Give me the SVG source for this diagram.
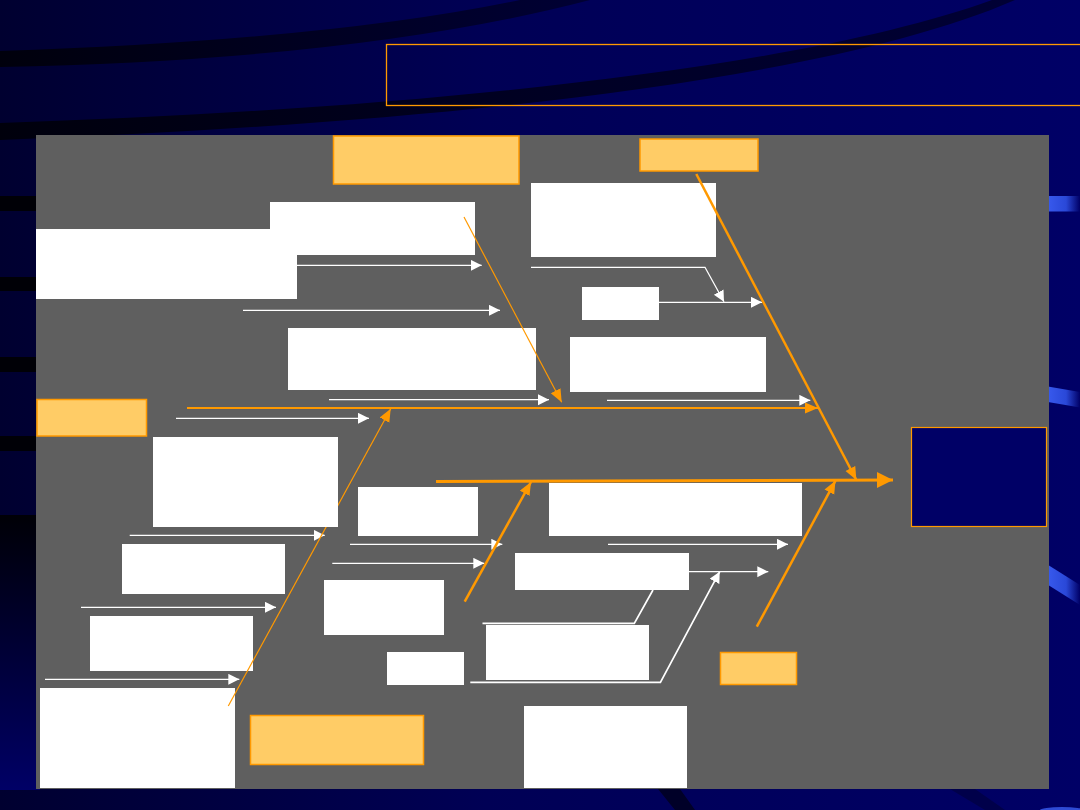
<svg xmlns="http://www.w3.org/2000/svg" width="1080" height="810" viewBox="0 0 1080 810">
<defs>
<linearGradient id="bg" x1="0" y1="0" x2="1" y2="0">
<stop offset="0" stop-color="#000030"/>
<stop offset="0.45" stop-color="#000055"/>
<stop offset="1" stop-color="#000066"/>
</linearGradient>
<linearGradient id="leftfade" x1="0" y1="0" x2="0" y2="1">
<stop offset="0" stop-color="#000006"/>
<stop offset="1" stop-color="#000066"/>
</linearGradient>
<linearGradient id="shine" x1="0" y1="0" x2="1" y2="0">
<stop offset="0" stop-color="#3a5cf0"/>
<stop offset="0.6" stop-color="#2a48d8"/>
<stop offset="1" stop-color="#000066"/>
</linearGradient>
<linearGradient id="band" x1="0" y1="0" x2="1" y2="0">
<stop offset="0" stop-color="#000008"/>
<stop offset="1" stop-color="#000030"/>
</linearGradient>
<marker id="wArrow" markerUnits="userSpaceOnUse" markerWidth="12" markerHeight="12" refX="11" refY="5.5" orient="auto">
<path d="M0,0 L11,5.5 L0,11 Z" fill="#FFFFFF"/>
</marker>
<marker id="oArrow" markerUnits="userSpaceOnUse" markerWidth="14" markerHeight="12" refX="13" refY="5.5" orient="auto">
<path d="M0,0 L13,5.5 L0,11 Z" fill="#FF9900"/>
</marker>
<marker id="oArrowBig" markerUnits="userSpaceOnUse" markerWidth="17" markerHeight="17" refX="16" refY="8" orient="auto">
<path d="M0,0 L16,8 L0,16 Z" fill="#FF9900"/>
</marker>
</defs>
<style>
.cat{fill:#FFCC66;stroke:#FF9900;stroke-width:1.5}
.box{fill:#FFFFFF}
.wl{fill:none;stroke:#FFFFFF;stroke-width:1.3}
.wa{marker-end:url(#wArrow)}
.ol{fill:none;stroke:#FF9900}
</style>

<g id="background">
<rect x="0" y="0" width="1080" height="810" fill="url(#bg)"/>
<path d="M0,51 Q330,40 520,0 L590,0 Q360,60 0,67 Z" fill="url(#band)" opacity="0.9"/>
<path d="M0,123 C400,110 800,70 992,0 L1015,0 C820,85 400,125 0,140 Z" fill="url(#band)" opacity="0.9"/>
<rect x="0" y="196" width="40" height="15" fill="#000006"/>
<rect x="0" y="277" width="40" height="14" fill="#000006"/>
<rect x="0" y="357" width="40" height="15" fill="#000006"/>
<rect x="0" y="436" width="40" height="15" fill="#000006"/>
<rect x="0" y="515" width="40" height="275" fill="url(#leftfade)"/>
<rect x="1045" y="196" width="35" height="15.5" fill="url(#shine)"/>
<polygon points="1045,386 1080,392 1080,407.5 1045,401.5" fill="url(#shine)"/>
<polygon points="1045,563 1080,585 1080,605 1045,583" fill="url(#shine)"/>
<polygon points="658,789 680,789 695,810 675,810" fill="#000028"/>
<polygon points="950,789 975,789 1005,810 985,810" fill="#00004a"/>
<ellipse cx="1062" cy="810" rx="22" ry="3" fill="#3a5cf0" opacity="0.8"/>
</g>

<g id="title">
<rect x="386.5" y="44.5" width="720" height="61" fill="none" stroke="#FF9900" stroke-width="1.3"/>
</g>

<g id="panel">
<rect x="36" y="135" width="1013" height="654" fill="#5F5F5F"/>
</g>

<g id="cat-top-left"><rect class="cat" x="333.5" y="136" width="185.5" height="48"/></g>
<g id="cat-top-right"><rect class="cat" x="640" y="139" width="118" height="32"/></g>
<g id="cat-mid-left"><rect class="cat" x="37" y="399.5" width="109.5" height="36.5"/></g>
<g id="cat-bottom-right"><rect class="cat" x="720.5" y="652.5" width="76" height="32"/></g>
<g id="cat-bottom-left"><rect class="cat" x="250.5" y="715.5" width="173" height="49"/></g>
<g id="effect"><rect x="911.5" y="427.5" width="135" height="99" fill="#000066" stroke="#FF9900" stroke-width="1.2"/></g>

<g id="n1"><rect class="box" x="270" y="202" width="205" height="53"/></g>
<g id="n2"><rect class="box" x="36" y="229" width="261" height="70"/></g>
<g id="n3"><rect class="box" x="288" y="328" width="248" height="62"/></g>
<g id="n4"><rect class="box" x="531" y="183" width="185" height="74"/></g>
<g id="n5"><rect class="box" x="582" y="287" width="77" height="33"/></g>
<g id="n6"><rect class="box" x="570" y="337" width="196" height="55"/></g>
<g id="n7"><rect class="box" x="549" y="483" width="253" height="53"/></g>
<g id="n8"><rect class="box" x="515" y="553" width="174" height="37"/></g>
<g id="n9"><rect class="box" x="486" y="625" width="163" height="55"/></g>
<g id="n10"><rect class="box" x="524" y="706" width="163" height="82"/></g>
<g id="n12"><rect class="box" x="122" y="544" width="163" height="50"/></g>
<g id="n13"><rect class="box" x="90" y="616" width="163" height="55"/></g>
<g id="n14"><rect class="box" x="40" y="688" width="195" height="100"/></g>
<g id="n15"><rect class="box" x="358" y="487" width="120" height="49"/></g>
<g id="n16"><rect class="box" x="324" y="580" width="120" height="55"/></g>
<g id="n17"><rect class="box" x="387" y="652" width="77" height="33"/></g>

<g id="connectors">
<line class="wl wa" x1="297" y1="265.3" x2="481.7" y2="265.3"/>
<line class="wl wa" x1="243" y1="310.3" x2="500" y2="310.3"/>
<line class="wl wa" x1="329" y1="399.7" x2="549" y2="399.7"/>
<line class="wl wa" x1="176" y1="418.3" x2="369" y2="418.3"/>
<polyline class="wl wa" points="531,267.3 705,267.3 724,301.7"/>
<line class="wl wa" x1="659" y1="302.3" x2="762" y2="302.3"/>
<line class="wl wa" x1="607" y1="400.3" x2="810.3" y2="400.3"/>
<line class="wl wa" x1="129.7" y1="535.3" x2="324.7" y2="535.3"/>
<line class="wl wa" x1="81" y1="607.3" x2="276" y2="607.3"/>
<line class="wl wa" x1="45" y1="679.3" x2="239.3" y2="679.3"/>
<line class="wl wa" x1="350" y1="544.3" x2="502.3" y2="544.3"/>
<line class="wl wa" x1="332.3" y1="563.3" x2="484.3" y2="563.3"/>
<line class="wl wa" x1="608" y1="544.3" x2="788" y2="544.3"/>
<line class="wl wa" x1="689" y1="571.7" x2="768.3" y2="571.7"/>
<polyline class="wl wa" style="stroke-width:1.7" points="470.3,682.3 660.4,682.3 719.7,571.7"/>
<polyline class="wl" style="stroke-width:1.7" points="482.5,623.3 634.3,623.3 653,590"/>

<line class="ol" stroke-width="2" x1="187" y1="408" x2="818" y2="408" marker-end="url(#oArrow)"/>
<line class="ol" stroke-width="3" x1="436" y1="481.5" x2="893" y2="480" marker-end="url(#oArrowBig)"/>
<line class="ol" stroke-width="1.2" x1="464" y1="217" x2="561.7" y2="402.3" marker-end="url(#oArrow)"/>
<line class="ol" stroke-width="1.2" x1="228.3" y1="706" x2="390.7" y2="408.7" marker-end="url(#oArrow)"/>
<line class="ol" stroke-width="2.5" x1="696.3" y1="174" x2="856.4" y2="480" marker-end="url(#oArrow)"/>
<line class="ol" stroke-width="2.5" x1="464.7" y1="601.7" x2="531" y2="482" marker-end="url(#oArrow)"/>
<line class="ol" stroke-width="2.5" x1="756.8" y1="626.7" x2="835.5" y2="480.7" marker-end="url(#oArrow)"/>
</g>

<g id="n11"><rect class="box" x="153" y="437" width="185" height="90"/></g>
</svg>
